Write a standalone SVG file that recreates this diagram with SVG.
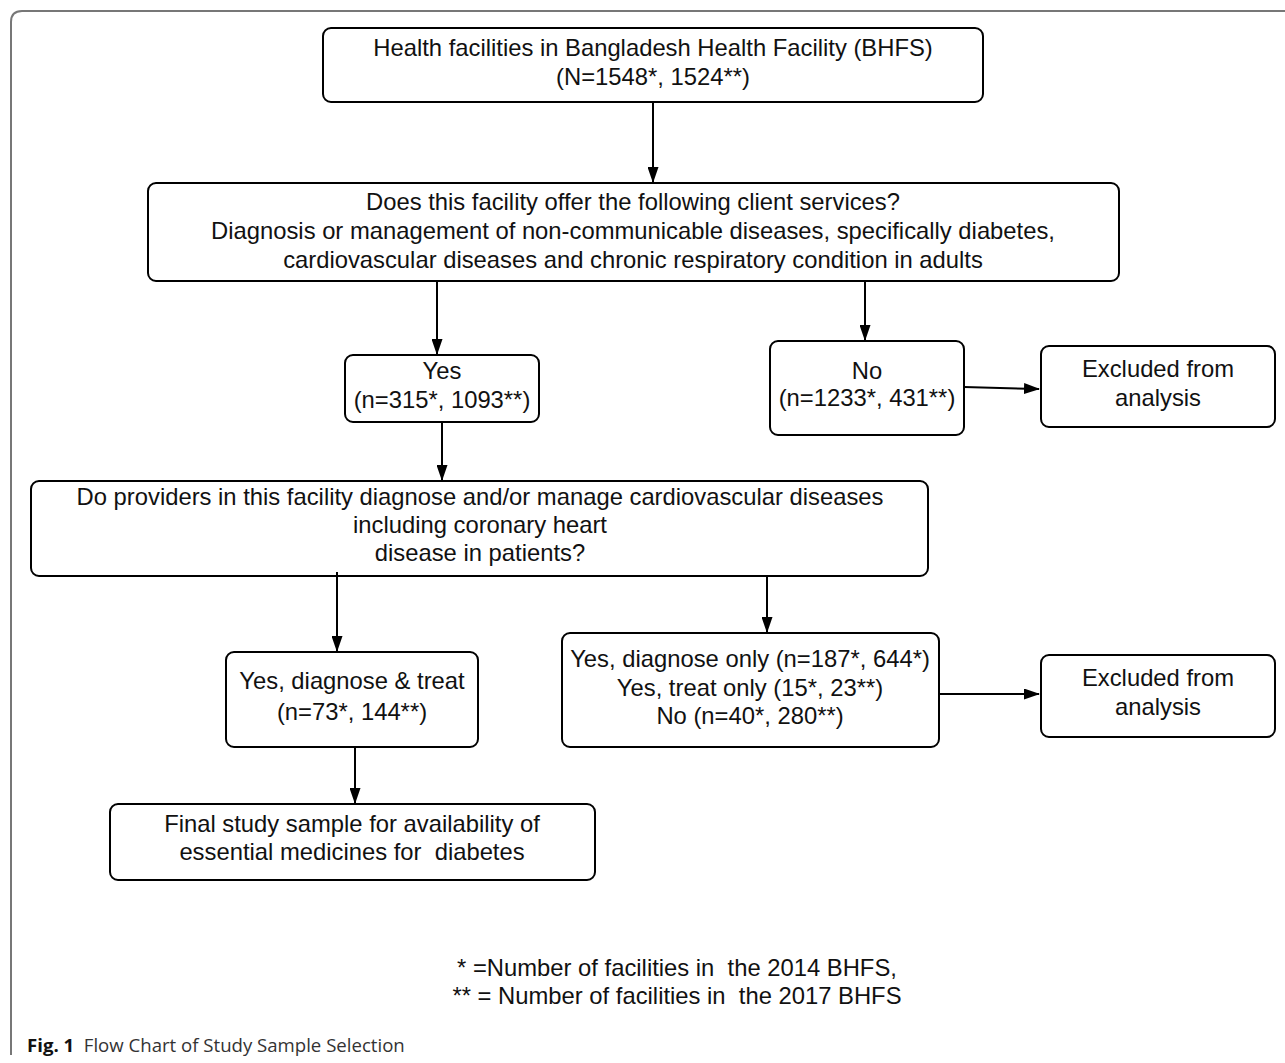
<svg xmlns="http://www.w3.org/2000/svg" width="1285" height="1063" viewBox="0 0 1285 1063">
<style>
.box{fill:#fff;stroke:#000;stroke-width:2}
.t{font-family:"Liberation Sans",Arial,sans-serif;font-size:23.8px;fill:#111;text-anchor:middle;white-space:pre}
.c{stroke:#000;stroke-width:2;fill:none}
.cap{font-family:"Open Sans","Noto Sans",sans-serif;font-size:18.6px;fill:#333;white-space:pre}
</style>
<defs>
<marker id="ah" markerWidth="16" markerHeight="11" refX="15" refY="5.5" orient="auto" markerUnits="userSpaceOnUse">
<path d="M0,0 L16,5.5 L0,11 Z" fill="#000"/>
</marker>
</defs>
<rect width="1285" height="1063" fill="#fff"/>
<path d="M11,1055 V22 Q11,11 22,11 H1285" fill="none" stroke="#777" stroke-width="2"/>
<g id="n1"><rect class="box" x="323" y="28" width="660" height="74" rx="8"/>
<text class="t" x="653" y="56">Health facilities in Bangladesh Health Facility (BHFS)</text>
<text class="t" x="653" y="85">(N=1548*, 1524**)</text></g>
<g id="n2"><rect class="box" x="148" y="183" width="971" height="98" rx="8"/>
<text class="t" x="633" y="210">Does this facility offer the following client services?</text>
<text class="t" x="633" y="239">Diagnosis or management of non-communicable diseases, specifically diabetes,</text>
<text class="t" x="633" y="268">cardiovascular diseases and chronic respiratory condition in adults</text></g>
<g id="n3"><rect class="box" x="345" y="355" width="194" height="67" rx="8"/>
<text class="t" x="442" y="379">Yes</text>
<text class="t" x="442" y="408">(n=315*, 1093**)</text></g>
<g id="n4"><rect class="box" x="770" y="341" width="194" height="94" rx="8"/>
<text class="t" x="867" y="379">No</text>
<text class="t" x="867" y="406">(n=1233*, 431**)</text></g>
<g id="n5"><rect class="box" x="1041" y="346" width="234" height="81" rx="8"/>
<text class="t" x="1158" y="377">Excluded from</text>
<text class="t" x="1158" y="406">analysis</text></g>
<g id="n6"><rect class="box" x="31" y="481" width="897" height="95" rx="8"/>
<text class="t" x="480" y="505">Do providers in this facility diagnose and/or manage cardiovascular diseases</text>
<text class="t" x="480" y="533">including coronary heart</text>
<text class="t" x="480" y="561">disease in patients?</text></g>
<g id="n7"><rect class="box" x="226" y="652" width="252" height="95" rx="8"/>
<text class="t" x="352" y="689">Yes, diagnose &amp; treat</text>
<text class="t" x="352" y="720">(n=73*, 144**)</text></g>
<g id="n8"><rect class="box" x="562" y="633" width="377" height="114" rx="8"/>
<text class="t" x="750" y="667">Yes, diagnose only (n=187*, 644*)</text>
<text class="t" x="750" y="696">Yes, treat only (15*, 23**)</text>
<text class="t" x="750" y="724">No (n=40*, 280**)</text></g>
<g id="n9"><rect class="box" x="1041" y="655" width="234" height="82" rx="8"/>
<text class="t" x="1158" y="686">Excluded from</text>
<text class="t" x="1158" y="715">analysis</text></g>
<g id="n10"><rect class="box" x="110" y="804" width="485" height="76" rx="8"/>
<text class="t" x="352" y="832">Final study sample for availability of</text>
<text class="t" x="352" y="860">essential medicines for  diabetes</text></g>
<g id="connectors">
<line class="c" x1="653" y1="102" x2="653" y2="182" marker-end="url(#ah)"/>
<line class="c" x1="437" y1="281" x2="437" y2="354" marker-end="url(#ah)"/>
<line class="c" x1="865" y1="281" x2="865" y2="340" marker-end="url(#ah)"/>
<line class="c" x1="964" y1="387" x2="1039" y2="389" marker-end="url(#ah)"/>
<line class="c" x1="442" y1="422" x2="442" y2="480" marker-end="url(#ah)"/>
<line class="c" x1="337" y1="572" x2="337" y2="651" marker-end="url(#ah)"/>
<line class="c" x1="767" y1="576" x2="767" y2="632" marker-end="url(#ah)"/>
<line class="c" x1="939" y1="694" x2="1039" y2="694" marker-end="url(#ah)"/>
<line class="c" x1="355" y1="747" x2="355" y2="803" marker-end="url(#ah)"/>
</g>
<text class="t" x="677" y="976">* =Number of facilities in  the 2014 BHFS,</text>
<text class="t" x="677" y="1004">** = Number of facilities in  the 2017 BHFS</text>
<text class="cap" x="27" y="1052"><tspan font-weight="bold" fill="#111">Fig. 1</tspan>  Flow Chart of Study Sample Selection</text>
</svg>
